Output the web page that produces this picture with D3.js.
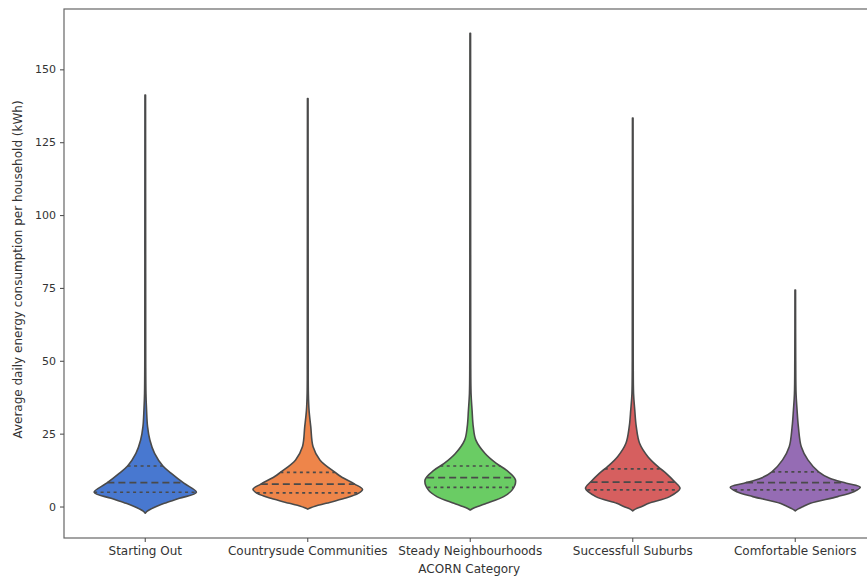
<!DOCTYPE html>
<html><head><meta charset="utf-8">
<script src="https://cdn.jsdelivr.net/npm/d3@7"></script>
<style>body{margin:0;background:#fff} svg{display:block;font-family:"DejaVu Sans",sans-serif}</style>
</head><body><svg id="chart" width="867" height="576"></svg>
<script>
// ---- data ----
const categories = ["Starting Out", "Countrysude Communities", "Steady Neighbourhoods", "Successfull Suburbs", "Comfortable Seniors"];
const colors = ["#4878d0", "#ee854a", "#6acc64", "#d65f5f", "#956cb4"];
const q1Values = [4.9, 4.7, 6.6, 5.7, 5.7];
const medianValues = [8.2, 7.7, 9.9, 8.4, 8.2];
const q3Values = [13.9, 11.7, 13.9, 12.9, 11.9];
const yTicks = [0, 25, 50, 75, 100, 125, 150];
const xTitle = "ACORN Category";
const yTitle = "Average daily energy consumption per household (kWh)";
// [value (kWh), relative density]
const startingOutDensity = [[-2.3,0],[-1.6,2],[-0.8,6],[0,11],[1.1,19],[2.8,34],[4.9,51],[8.0,38.5],[11.4,26],[13.9,17.6],[18.2,9.3],[22.8,4.6],[27.4,2.3],[33.1,1.3],[38.8,0.7],[50.3,0.45],[80,0.4],[141.2,0.3]];
const countrysideDensity = [[-0.9,0],[-0.4,3],[0.2,8],[1.1,18.3],[2.8,36.8],[4.5,50.3],[5.9,54.6],[7.7,46.8],[10.2,33.3],[11.7,27.3],[16,12.1],[20.5,5.3],[27.4,3],[33,1.3],[38.8,0.6],[50,0.45],[80,0.4],[140,0.3]];
const steadyDensity = [[-1.2,0],[-0.6,3],[0.2,9],[1.1,16.3],[3.4,33.3],[5.7,41.8],[9.1,45.1],[12.5,36],[14.8,26],[18.2,14.8],[22.8,5.6],[27.4,3],[33.1,1.8],[38.8,0.8],[50.3,0.45],[80,0.4],[162.4,0.3]];
const successfulDensity = [[-1.5,0],[-0.8,3],[0,9],[1.1,16],[3.4,36.8],[6.2,47.1],[8.5,41.8],[11.4,33.3],[13.7,25.1],[17.1,15.1],[21.7,6.8],[27.4,3.5],[33.1,2],[38.8,0.8],[50.3,0.45],[80,0.4],[133.3,0.3]];
const comfortableDensity = [[-1.5,0],[-0.8,3],[0,8],[1.1,15.1],[3.4,42.3],[5.1,58.3],[6.6,64.8],[8.0,51],[9.7,34.3],[11.9,23.3],[16,12.6],[20.5,6],[27.4,3.1],[33.1,1.8],[38.8,0.8],[50,0.45],[74.3,0.3]];
const densities = [startingOutDensity, countrysideDensity, steadyDensity, successfulDensity, comfortableDensity];

// ---- layout ----
const svg = d3.select("#chart");
const mLeft = 64, mTop = 9, mBottom = 538, mRight = 876.5;
const x = d3.scaleBand().domain(categories).range([mLeft, mRight]).padding(0);
const y = d3.scaleLinear().domain([-10.8, 170.7]).range([mBottom, mTop]);
const maxD = d3.max(densities, d => d3.max(d, p => p[1]));
const w = d3.scaleLinear().domain([0, maxD]).range([0, x.bandwidth() * 0.4]);

const lineColor = "#4a4a4a";

function densAt(dens, v) {
  for (let i = 0; i < dens.length - 1; i++) {
    const a = dens[i], b = dens[i + 1];
    if (v >= a[0] && v <= b[0]) return a[1] + (b[1] - a[1]) * (v - a[0]) / (b[0] - a[0]);
  }
  return 0;
}

categories.forEach((c, i) => {
  const cx = x(c) + x.bandwidth() / 2;
  const dens = densities[i];
  const area = d3.area()
    .y(d => y(d[0]))
    .x0(d => cx - w(d[1]))
    .x1(d => cx + w(d[1]))
    .curve(d3.curveCatmullRom.alpha(0.5));
  svg.append("path").datum(dens).attr("d", area)
    .attr("fill", colors[i]).attr("stroke", lineColor).attr("stroke-width", 1.6)
    .attr("stroke-linejoin", "round");
  [[q1Values[i], "3,3.5"], [medianValues[i], "7,4"], [q3Values[i], "3,3.5"]].forEach(([v, dash]) => {
    const hw = w(densAt(dens, v));
    svg.append("line")
      .attr("x1", cx - hw).attr("x2", cx + hw)
      .attr("y1", y(v)).attr("y2", y(v))
      .attr("stroke", lineColor).attr("stroke-width", 1.7)
      .attr("stroke-dasharray", dash);
  });
});

// frame
svg.append("rect").attr("x", mLeft).attr("y", mTop).attr("width", mRight - mLeft).attr("height", mBottom - mTop)
  .attr("fill", "none").attr("stroke", "#666").attr("stroke-width", 1.2);

// y axis
const yAxis = svg.append("g").attr("transform", `translate(${mLeft},0)`)
  .call(d3.axisLeft(y).tickValues(yTicks).tickSize(4).tickPadding(4));
yAxis.select(".domain").remove();
yAxis.selectAll("line").attr("stroke", "#555").attr("stroke-width", 1.1);
yAxis.selectAll("text").attr("fill", "#333").style("font-size", "11px").style("font-family", "DejaVu Sans");

// x axis
const xAxis = svg.append("g").attr("transform", `translate(0,${mBottom})`)
  .call(d3.axisBottom(x).tickSize(4).tickPadding(4));
xAxis.select(".domain").remove();
xAxis.selectAll("line").attr("stroke", "#555").attr("stroke-width", 1.1);
xAxis.selectAll("text").attr("fill", "#333").style("font-size", "12px").style("font-family", "DejaVu Sans");

svg.append("text").attr("x", (mLeft + mRight) / 2 - 1).attr("y", 572.5).attr("text-anchor", "middle")
  .attr("fill", "#333").style("font-size", "12px").text(xTitle);
svg.append("text").attr("transform", `translate(22,${(mTop + mBottom) / 2 - 4}) rotate(-90)`)
  .attr("text-anchor", "middle").attr("fill", "#333").style("font-size", "12px").text(yTitle);
</script></body></html>
